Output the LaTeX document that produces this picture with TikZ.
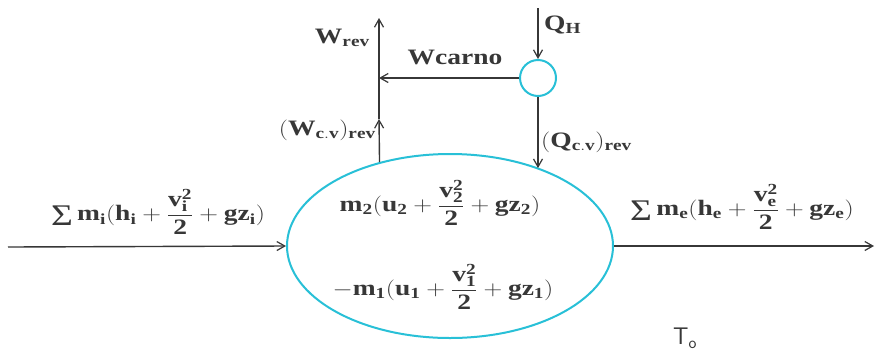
\documentclass[tikz,border=0pt]{standalone}
\usepackage{fontspec}
\setmainfont{Liberation Serif}
\setmathrm{Liberation Serif}
\newfontfamily\sigfont{Liberation Serif}
\usetikzlibrary{shapes.geometric,arrows.meta}
\definecolor{cvcyan}{RGB}{40,192,215}
\definecolor{ink}{RGB}{55,55,55}
\newcommand{\bigsig}{\mathop{\vcenter{\hbox{\sigfont\mdseries\fontsize{30}{30}\selectfont Σ}}}}
\newcommand{\sx}[1]{\scalebox{1.25}[1]{#1}}
\begin{document}
\begin{tikzpicture}[x=1pt,y=-1pt,
  every node/.style={text=ink},
  lab/.style={font=\fontsize{22}{25}\selectfont\bfseries, inner sep=0pt},
  flow/.style={draw=ink, line width=1.4pt, -{Straight Barb[length=8pt,width=9pt,line width=1.2pt]}},
  cvbox/.style={ellipse, draw=cvcyan, line width=2pt, minimum width=326pt, minimum height=184pt, inner sep=0pt},
  engine/.style={circle, draw=cvcyan, line width=2pt, minimum size=36pt, inner sep=0pt}]
\useasboundingbox (0,0) rectangle (875,357);
\fill[white] (0,0) rectangle (875,357);

\node[cvbox] (cv) at (450,246) {};
\node[engine] (eng) at (538,78) {};

\coordinate (in) at (8,247);
\coordinate (out) at (874,246);
\coordinate (wb) at (cv.130.5);
\coordinate (jn) at (379,78);
\coordinate (mid) at (379,119);
\coordinate (wtop) at (379,18);
\coordinate (qtop) at (538,8);
\coordinate (qb) at (cv.41.4);

\draw[flow] (in) -- (cv.west);
\draw[flow] (cv.east) -- (out);
\draw[flow] (wb) -- (mid);
\draw[flow] (mid) -- (wtop);
\draw[flow] (eng.west) -- (jn);
\draw[flow] (qtop) -- (eng.north);
\draw[flow] (eng.south) -- (eng.south |- qb);

\node[lab] (lin) at (158,212) {\sx{$\displaystyle\bigsig\mathbf{m_i(h_i+\frac{v_i^2}{2}+gz_i)}$}};
\node[lab] (lout) at (742,207) {\sx{$\displaystyle\bigsig\mathbf{m_e(h_e+\frac{v_e^2}{2}+gz_e)}$}};
\node[lab] (l2) at (440,203) {\sx{$\displaystyle\mathbf{m_2(u_2+\frac{v_2^2}{2}+gz_2)}$}};
\node[lab] (l1) at (443,287) {\sx{$\displaystyle\mathbf{-m_1(u_1+\frac{v_1^2}{2}+gz_1)}$}};
\node[lab, anchor=east] (lwrev) at (370,38) {\sx{$\mathbf{W_{rev}}$}};
\node[lab] (lwc) at (455,57) {\sx{Wcarno}};
\node[lab, anchor=west] (lqh) at (544,25) {\sx{$\mathbf{Q_H}$}};
\node[lab, anchor=east] (lwcv) at (376,130) {\sx{$\mathbf{(W_{c.v})_{rev}}$}};
\node[lab, anchor=west] (lqcv) at (541,142) {\sx{$\mathbf{(Q_{c.v})_{rev}}$}};
\node[font=\fontsize{24}{26}\selectfont\sffamily, inner sep=0pt] (t0) at (685,338) {T\textsubscript{o}};
\end{tikzpicture}
\end{document}
